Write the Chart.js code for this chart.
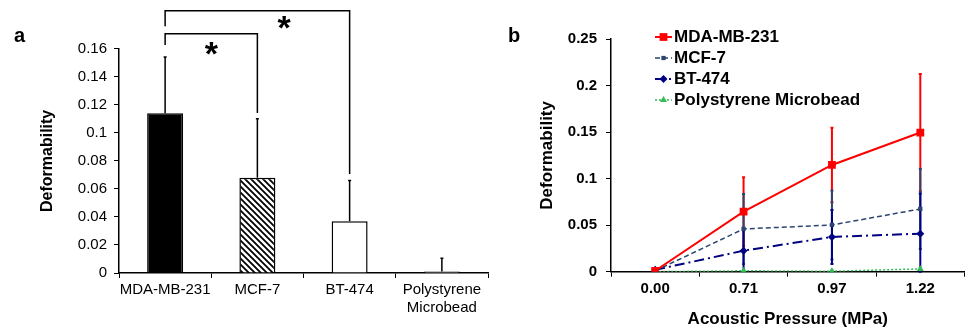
<!DOCTYPE html>
<html>
<head>
<meta charset="utf-8">
<script src="https://cdn.jsdelivr.net/npm/chart.js@4.4.0/dist/chart.umd.min.js"></script>
<style>
  html, body { margin: 0; padding: 0; background: #fff; }
  #wrap { position: relative; width: 966px; height: 331px; overflow: hidden; }
  canvas { position: absolute; top: 0; }
  .panel { position: absolute; font: bold 20px 'Liberation Sans', Arial, sans-serif; line-height: 20px; color: #000; }
</style>
</head>
<body>
<div id="wrap">
  <canvas id="chartA" width="490" height="331" style="left:0"></canvas>
  <canvas id="chartB" width="480" height="331" style="left:490px"></canvas>
  <div class="panel" style="left:14px;top:25px">a</div>
  <div class="panel" style="left:508px;top:25px">b</div>
</div>
<script>
// panel a
const cellLines = ['MDA-MB-231', 'MCF-7', 'BT-474', ['Polystyrene', 'Microbead']];
const meanDeform = [0.114, 0.068, 0.037, 0.001];
const errDeform = [0.040, 0.042, 0.029, 0.0095];
const yTicksA = ['0', '0.02', '0.04', '0.06', '0.08', '0.1', '0.12', '0.14', '0.16'];

// significance brackets (bar indexes + levels in data units)
const brackets = [
  {from: 0, to: 1, top: 0.1707, leftEnd: 0.1626, rightEnd: 0.1141, starAt: 0.5, starLevel: 0.1598},
  {from: 0, to: 2, top: 0.187, leftEnd: 0.176, rightEnd: 0.0706, starAt: 1.29, starLevel: 0.179}
];

// panel b
const pressures = ['0.00', '0.71', '0.97', '1.22'];
const mdaMean = [0.001, 0.0645, 0.1147, 0.1495];
const mdaErr = [0, 0.037, 0.040, 0.063];
const mcfMean = [0.001, 0.0459, 0.0502, 0.0674];
const mcfErr = [0, 0.0376, 0.037, 0.043];
const btMean = [0.002, 0.0226, 0.0373, 0.0409];
const btErr = [0, 0.022, 0.029, 0.043];
const beadMean = [0, 0.001, 0.0005, 0.003];
const beadErr = [0, 0.001, 0.001, 0.001];
const yTicksB = ['0', '0.05', '0.1', '0.15', '0.2', '0.25'];

const FONT = "'Liberation Sans', Arial, sans-serif";
Chart.defaults.font.family = FONT;
Chart.defaults.color = '#000';

function makeHatch(){
  const c = document.createElement('canvas');
  c.width = 6; c.height = 6;
  const g = c.getContext('2d');
  g.fillStyle = '#fff';
  g.fillRect(0, 0, 6, 6);
  g.strokeStyle = '#000';
  g.lineWidth = 1.8;
  g.beginPath();
  g.moveTo(-1, -1); g.lineTo(7, 7);
  g.moveTo(-1, 5); g.lineTo(1, 7);
  g.moveTo(5, -1); g.lineTo(7, 1);
  g.stroke();
  return g.createPattern(c, 'repeat');
}

const barExtras = {
  id: 'barExtras',
  afterDatasetsDraw(chart){
    const {ctx, scales: {x, y}} = chart;
    ctx.save();
    ctx.strokeStyle = '#000';
    ctx.lineWidth = 1.5;
    meanDeform.forEach((m, i) => {
      const px = x.getPixelForValue(i);
      const y0 = y.getPixelForValue(m);
      const y1 = y.getPixelForValue(m + errDeform[i]);
      ctx.beginPath();
      ctx.moveTo(px, y0); ctx.lineTo(px, y1);
      ctx.moveTo(px - 1.5, y1); ctx.lineTo(px + 1.5, y1);
      ctx.stroke();
    });

    brackets.forEach(b => {
      const xl = x.getPixelForValue(b.from);
      const xr = x.getPixelForValue(b.to);
      const yt = y.getPixelForValue(b.top);
      ctx.beginPath();
      ctx.moveTo(xl, y.getPixelForValue(b.leftEnd));
      ctx.lineTo(xl, yt);
      ctx.lineTo(xr, yt);
      ctx.lineTo(xr, y.getPixelForValue(b.rightEnd));
      ctx.stroke();
      const i0 = Math.floor(b.starAt);
      const p0 = x.getPixelForValue(i0), p1 = x.getPixelForValue(i0 + 1);
      const sx = p0 + (p1 - p0) * (b.starAt - i0);
      ctx.fillStyle = '#000';
      ctx.font = 'bold 34px ' + FONT;
      ctx.textAlign = 'center';
      ctx.textBaseline = 'alphabetic';
      ctx.fillText('*', sx, y.getPixelForValue(b.starLevel) + 16.5);
    });
    ctx.restore();
  }
};

new Chart(document.getElementById('chartA'), {
  type: 'bar',
  data: {
    labels: cellLines,
    datasets: [{
      data: meanDeform,
      backgroundColor: ['#000', makeHatch(), '#fff', '#fff'],
      borderColor: '#000',
      borderWidth: 1.5,
      barPercentage: 0.39,
      categoryPercentage: 1
    }]
  },
  options: {
    responsive: false,
    animation: false,
    devicePixelRatio: 1,
    events: [],
    layout: {padding: {top: 48.7, right: 2, left: 0, bottom: 0}},
    plugins: {legend: {display: false}, tooltip: {enabled: false}},
    scales: {
      x: {
        offset: true,
        grid: {offset: true, drawOnChartArea: false, drawTicks: true, tickLength: 5, color: '#000', lineWidth: 1},
        border: {color: '#000', width: 1.5},
        ticks: {font: {size: 15}, color: '#000', padding: 3, maxRotation: 0, autoSkip: false},
        afterFit(s){ s.height = 58; }
      },
      y: {
        min: 0, max: 0.16,
        grid: {drawOnChartArea: false, drawTicks: true, tickLength: 5, color: '#000', lineWidth: 1},
        border: {color: '#000', width: 1.5},
        ticks: {stepSize: 0.02, font: {size: 15}, color: '#000', padding: 7, callback: (v, i) => yTicksA[i]},
        title: {display: true, text: 'Deformability', font: {size: 16, weight: 'bold'}, color: '#000', padding: {top: 38.4, bottom: 0}},
        afterFit(s){ s.width = 119; }
      }
    }
  },
  plugins: [barExtras]
});

const lineErrors = [mdaErr, mcfErr, btErr, beadErr];

const lineExtras = {
  id: 'lineExtras',
  beforeDatasetsDraw(chart){
    const {ctx, scales: {x, y}} = chart;
    ctx.save();
    chart.data.datasets.forEach((ds, d) => {
      ctx.strokeStyle = ds.borderColor;
      ctx.lineWidth = 2;
      ds.data.forEach((v, i) => {
        const e = lineErrors[d][i];
        if (!e) return;
        const px = x.getPixelForValue(i);
        const yt = y.getPixelForValue(v + e);
        const yb = y.getPixelForValue(Math.max(v - e, 0));
        ctx.beginPath();
        ctx.moveTo(px, yt); ctx.lineTo(px, yb);
        ctx.moveTo(px - 1.5, yt); ctx.lineTo(px + 1.5, yt);
        ctx.moveTo(px - 1.5, yb); ctx.lineTo(px + 1.5, yb);
        ctx.stroke();
      });
    });
    ctx.restore();
  },
  afterDraw(chart){
    const {ctx} = chart;
    ctx.save();
    const rows = [37, 58, 79, 100];
    chart.data.datasets.forEach((ds, d) => {
      const ly = rows[d];
      ctx.strokeStyle = ds.borderColor;
      ctx.lineWidth = ds.borderWidth;
      ctx.setLineDash(ds.borderDash || []);
      ctx.beginPath();
      ctx.moveTo(165, ly); ctx.lineTo(182, ly);
      ctx.stroke();
      ctx.setLineDash([]);
      ctx.fillStyle = ds.backgroundColor;
      Chart.helpers.drawPoint(ctx, {pointStyle: ds.pointStyle, radius: ds.pointRadius, rotation: 0, borderWidth: 0}, 173.5, ly);
      ctx.fillStyle = '#000';
      ctx.font = 'bold 17px ' + FONT;
      ctx.textAlign = 'left';
      ctx.textBaseline = 'middle';
      ctx.fillText(ds.label, 184, ly);
    });
    ctx.restore();
  }
};

new Chart(document.getElementById('chartB'), {
  type: 'line',
  data: {
    labels: pressures,
    datasets: [
      {label: 'MDA-MB-231', data: mdaMean, borderColor: '#ff0000', backgroundColor: '#ff0000', borderWidth: 2,
        pointStyle: 'rect', pointRadius: 5.5, pointBorderWidth: 0},
      {label: 'MCF-7', data: mcfMean, borderColor: '#2b4471', backgroundColor: '#2b4471', borderWidth: 1.5, borderDash: [5, 3],
        pointStyle: 'rect', pointRadius: 3, pointBorderWidth: 0},
      {label: 'BT-474', data: btMean, borderColor: '#000080', backgroundColor: '#000080', borderWidth: 2, borderDash: [10, 4, 2, 4],
        pointStyle: 'rectRot', pointRadius: 4, pointBorderWidth: 0},
      {label: 'Polystyrene Microbead', data: beadMean, borderColor: '#33bb55', backgroundColor: '#33bb55', borderWidth: 1.5, borderDash: [2, 2],
        pointStyle: 'triangle', pointRadius: 4, pointBorderWidth: 0}
    ]
  },
  options: {
    responsive: false,
    animation: false,
    devicePixelRatio: 1,
    events: [],
    layout: {padding: {top: 39, right: 0, left: 0, bottom: 0}},
    plugins: {legend: {display: false}, tooltip: {enabled: false}},
    scales: {
      x: {
        offset: true,
        grid: {offset: true, drawOnChartArea: false, drawTicks: true, tickLength: 5, color: '#000', lineWidth: 1},
        border: {color: '#000', width: 1.5},
        ticks: {font: {size: 15, weight: 'bold'}, color: '#000', padding: 3, maxRotation: 0},
        title: {display: true, text: 'Acoustic Pressure (MPa)', font: {size: 17, weight: 'bold'}, color: '#000', padding: {top: 0, bottom: 1}},
        afterFit(s){ s.height = 59.3; }
      },
      y: {
        min: 0, max: 0.25,
        grid: {drawOnChartArea: false, drawTicks: true, tickLength: 5, color: '#000', lineWidth: 1},
        border: {color: '#000', width: 1.5},
        ticks: {stepSize: 0.05, font: {size: 15, weight: 'bold'}, color: '#000', padding: 9, callback: (v, i) => yTicksB[i]},
        title: {display: true, text: 'Deformability', font: {size: 17, weight: 'bold'}, color: '#000', padding: {top: 47, bottom: 0}},
        afterFit(s){ s.width = 121; }
      }
    }
  },
  plugins: [lineExtras]
});
</script>
</body>
</html>
